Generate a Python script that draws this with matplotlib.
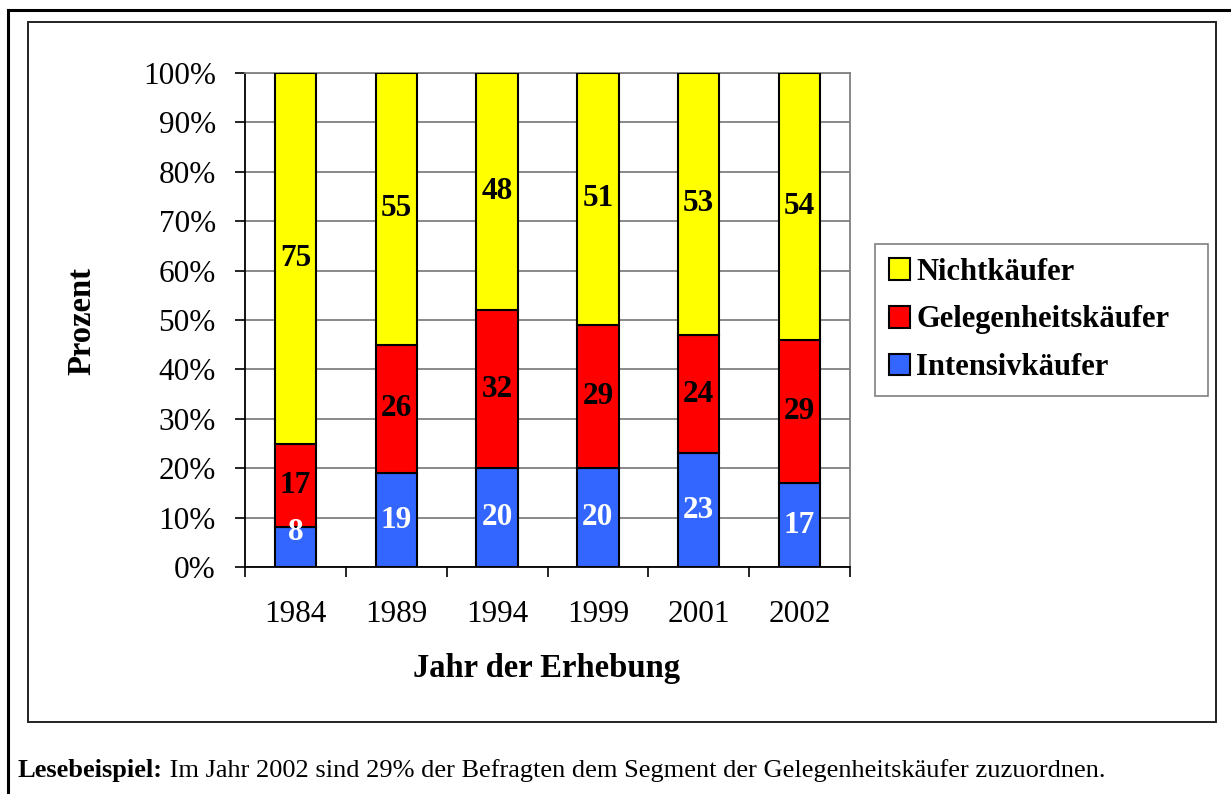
import matplotlib
matplotlib.use("Agg")
import matplotlib.pyplot as plt
import numpy as np
from matplotlib.lines import Line2D
from matplotlib.patches import Rectangle

plt.rcParams['font.family'] = ['Liberation Serif', 'DejaVu Serif']

years = ['1984', '1989', '1994', '1999', '2001', '2002']
intensiv = [8, 19, 20, 20, 23, 17]
gelegenheit = [17, 26, 32, 29, 24, 29]
nicht = [75, 55, 48, 51, 53, 54]

W, H = 1231, 794
fig = plt.figure(figsize=(W / 100, H / 100), dpi=100)

# outer frame (top and left) and inner chart box
fig.add_artist(Line2D([8 / W, 1], [1 - 10 / H, 1 - 10 / H], color='black', lw=2.2))
fig.add_artist(Line2D([8 / W, 8 / W], [0, 1 - 10 / H], color='black', lw=2.2))
fig.add_artist(Rectangle((28 / W, 1 - 722 / H), (1216 - 28) / W, (722 - 22) / H,
                         fill=False, edgecolor='#222222', lw=1.4, transform=fig.transFigure))

ax = fig.add_axes([245 / W, 1 - 567 / H, (850 - 245) / W, (567 - 73) / H])

x = np.arange(len(years))
bw = 0.41
blue = '#3366FF'
red = '#FF0000'
yellow = '#FFFF00'

b1 = ax.bar(x, intensiv, bw, color=blue, edgecolor='black', lw=1.5, label='Intensivkäufer', zorder=3)
b2 = ax.bar(x, gelegenheit, bw, bottom=intensiv, color=red, edgecolor='black', lw=1.5,
            label='Gelegenheitskäufer', zorder=3)
bottom3 = np.array(intensiv) + np.array(gelegenheit)
b3 = ax.bar(x, nicht, bw, bottom=bottom3, color=yellow, edgecolor='black', lw=1.5,
            label='Nichtkäufer', zorder=3)

fs = 22.5
for i in range(len(years)):
    ax.text(x[i], max(intensiv[i] / 2, 7), str(intensiv[i]), ha='center', va='center',
            color='white', fontsize=fs, fontweight='bold', zorder=4)
    ax.text(x[i], intensiv[i] + gelegenheit[i] / 2, str(gelegenheit[i]), ha='center', va='center',
            color='black', fontsize=fs, fontweight='bold', zorder=4)
    ax.text(x[i], bottom3[i] + nicht[i] / 2, str(nicht[i]), ha='center', va='center',
            color='black', fontsize=fs, fontweight='bold', zorder=4)

ax.set_xlim(-0.5, len(years) - 0.5)
ax.set_ylim(0, 100)
ax.set_yticks(np.arange(0, 101, 10))
ax.set_yticklabels([f'{v}%' for v in range(0, 101, 10)], fontsize=fs)
ax.tick_params(axis='y', length=7, width=1.2, pad=14, direction='out')
ax.set_xticks(x)
ax.set_xticklabels(years, fontsize=fs)
ax.set_xticks(np.arange(-0.5, len(years)), minor=True)
ax.tick_params(axis='x', which='major', length=0, pad=24)
ax.tick_params(axis='x', which='minor', length=7, width=1.2, direction='out')

ax.grid(axis='y', color='#808080', lw=1.3, zorder=0)
ax.set_axisbelow(True)
for s in ['left', 'bottom']:
    ax.spines[s].set_color('black')
    ax.spines[s].set_linewidth(1.3)
for s in ['top', 'right']:
    ax.spines[s].set_color('#808080')
    ax.spines[s].set_linewidth(1.3)

fig.text(82 / W, 1 - 321 / H, 'Prozent', rotation=90, ha='center', va='center',
         fontsize=23.5, fontweight='bold')
fig.text(547 / W, 1 - 668 / H, 'Jahr der Erhebung', ha='center', va='center',
         fontsize=23.5, fontweight='bold')

leg = ax.legend(handles=[b3, b2, b1], loc='center left', mode='expand',
                bbox_to_anchor=(875 / W, 1 - 397 / H, 333 / W, 154 / H),
                bbox_transform=fig.transFigure,
                fancybox=False, edgecolor='#808080', framealpha=1,
                prop={'weight': 'bold', 'size': 22}, handlelength=0.7, handleheight=0.7,
                handletextpad=0.2, labelspacing=0.62, borderpad=0.45, borderaxespad=0)
leg.get_frame().set_linewidth(1.2)

t1 = fig.text(18 / W, 1 - 777 / H, 'Lesebeispiel:', fontsize=19, fontweight='bold',
              ha='left', va='baseline')
ax.annotate(' Im Jahr 2002 sind 29% der Befragten dem Segment der Gelegenheitskäufer zuzuordnen.',
            xy=(1, 0), xycoords=t1, ha='left', va='bottom', fontsize=19, annotation_clip=False)

fig.savefig('out.png', dpi=100)
